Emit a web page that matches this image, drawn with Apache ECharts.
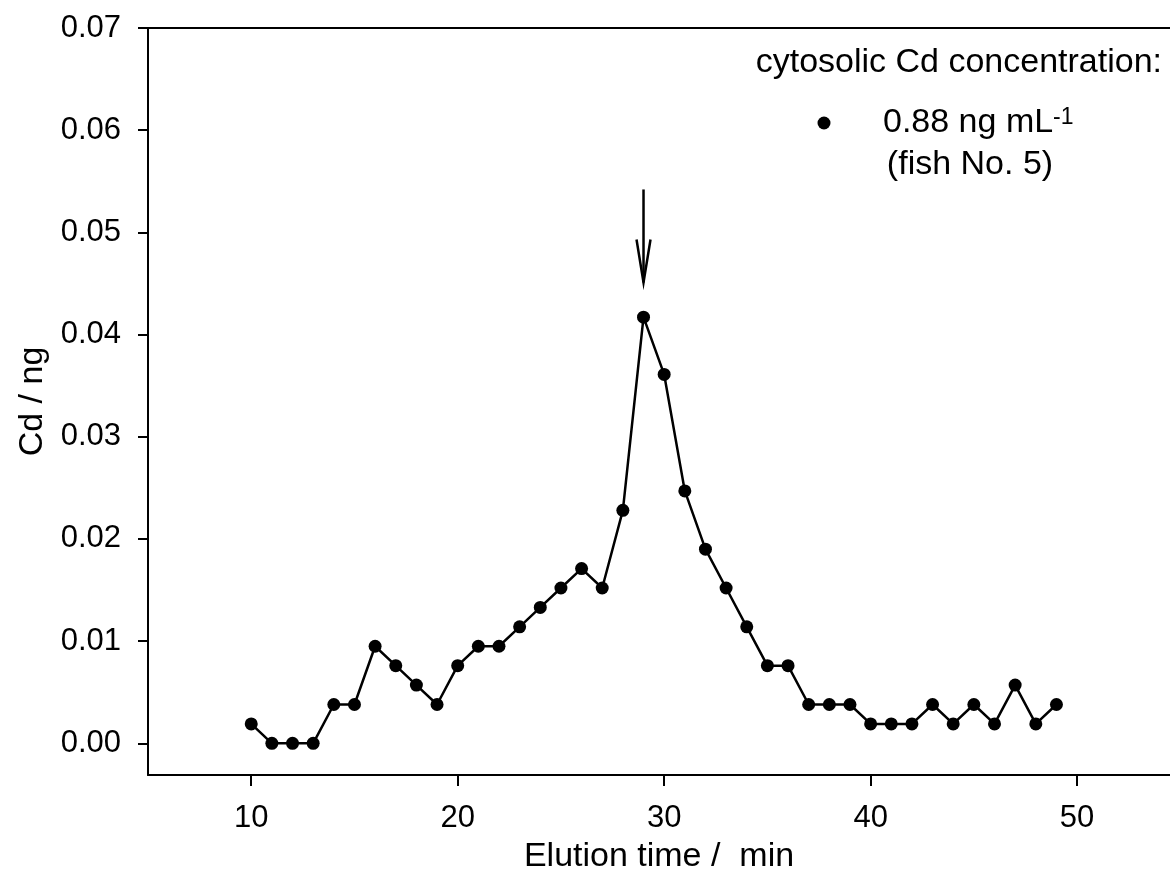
<!DOCTYPE html>
<html>
<head>
<meta charset="utf-8">
<script src="https://cdn.jsdelivr.net/npm/echarts@6/dist/echarts.min.js"></script>
<style>
  html, body { margin: 0; padding: 0; background: #fff; }
  #chart { width: 1170px; height: 876px; }
</style>
</head>
<body>
<div id="chart"></div>
<script>
// elution time (min) and Cd amount (ng)
const elutionTime = [10, 11, 12, 13, 14, 15, 16, 17, 18, 19,
  20, 21, 22, 23, 24, 25, 26, 27, 28, 29,
  30, 31, 32, 33, 34, 35, 36, 37, 38, 39,
  40, 41, 42, 43, 44, 45, 46, 47, 48, 49];
const cdAmount = [0.0019, 0, 0, 0, 0.0038, 0.0038, 0.0095, 0.0076, 0.0057, 0.0038,
  0.0076, 0.0095, 0.0095, 0.0114, 0.0133, 0.0152, 0.0171, 0.0152, 0.0228, 0.0417,
  0.0361, 0.0247, 0.0190, 0.0152, 0.0114, 0.0076, 0.0076, 0.0038, 0.0038, 0.0038,
  0.0019, 0.0019, 0.0019, 0.0038, 0.0019, 0.0038, 0.0019, 0.0057, 0.0019, 0.0038];

// tick labels
const xTicks = [10, 20, 30, 40, 50];
const yTicks = [0, 0.01, 0.02, 0.03, 0.04, 0.05, 0.06, 0.07];

// arrow over the peak: [time, from, to]
const peakArrow = [[29, 0.0542, 0.0451]];

const FONT = "'Liberation Sans', Arial, sans-serif";

let chart = echarts.init(document.getElementById('chart'));

let points = elutionTime.map(function (t, i) { return [t, cdAmount[i]]; });

let option = {
  animation: false,
  backgroundColor: '#fff',
  grid: { left: 148, top: 28, right: 0, bottom: 101, outerBoundsMode: 'none' },
  xAxis: [
    {
      type: 'value',
      min: 5,
      max: 54.5,
      name: 'Elution time /  min',
      nameLocation: 'middle',
      nameGap: 65,
      nameTextStyle: { fontFamily: FONT, fontSize: 34, color: '#000' },
      axisLine: { onZero: false, lineStyle: { color: '#000', width: 2 } },
      axisTick: { show: true, length: 11, lineStyle: { color: '#000', width: 2 }, customValues: xTicks },
      axisLabel: { customValues: xTicks, margin: 28, fontFamily: FONT, fontSize: 31, color: '#000' },
      splitLine: { show: false }
    },
    {
      // top frame line
      type: 'value',
      position: 'top',
      min: 5,
      max: 54.5,
      axisLine: { show: true, onZero: false, lineStyle: { color: '#000', width: 2 } },
      axisTick: { show: false },
      axisLabel: { show: false },
      splitLine: { show: false }
    }
  ],
  yAxis: {
    type: 'value',
    min: -0.0031,
    max: 0.07,
    name: 'Cd / ng',
    nameLocation: 'middle',
    nameGap: 96,
    nameTextStyle: { fontFamily: FONT, fontSize: 34, color: '#000' },
    axisLine: { show: true, onZero: false, lineStyle: { color: '#000', width: 2 } },
    axisTick: { show: true, length: 10, lineStyle: { color: '#000', width: 2 }, customValues: yTicks },
    axisLabel: {
      customValues: yTicks,
      margin: 27,
      fontFamily: FONT,
      fontSize: 31,
      color: '#000',
      formatter: function (v) { return v.toFixed(2); }
    },
    splitLine: { show: false }
  },
  graphic: [
    {
      type: 'text',
      x: 1162,
      y: 63,
      style: {
        text: 'cytosolic Cd concentration:',
        fontFamily: FONT, fontSize: 34, fill: '#000',
        align: 'right', verticalAlign: 'middle'
      }
    },
    {
      type: 'circle',
      shape: { cx: 824, cy: 123, r: 6.5 },
      style: { fill: '#000' }
    },
    {
      type: 'text',
      x: 883,
      y: 123,
      style: {
        text: '0.88 ng mL{sup|-1}',
        fontFamily: FONT, fontSize: 34, fill: '#000',
        align: 'left', verticalAlign: 'middle',
        rich: {
          sup: { fontFamily: FONT, fontSize: 23, fill: '#000', verticalAlign: 'top', lineHeight: 22 }
        }
      }
    },
    {
      type: 'text',
      x: 970,
      y: 165,
      style: {
        text: '(fish No. 5)',
        fontFamily: FONT, fontSize: 34, fill: '#000',
        align: 'center', verticalAlign: 'middle'
      }
    }
  ],
  series: [
    {
      name: 'Cd',
      type: 'line',
      data: points,
      symbol: 'circle',
      symbolSize: 13,
      showSymbol: true,
      itemStyle: { color: '#000' },
      lineStyle: { color: '#000', width: 2.5 },
      silent: true
    },
    {
      name: 'arrow',
      type: 'custom',
      data: peakArrow,
      encode: { x: 0, y: [1, 2] },
      silent: true,
      renderItem: function (params, api) {
        let top = api.coord([api.value(0), api.value(1)]);
        let tip = api.coord([api.value(0), api.value(2)]);
        return {
          type: 'group',
          children: [
            {
              type: 'line',
              shape: { x1: top[0], y1: top[1], x2: tip[0], y2: tip[1] },
              style: { stroke: '#000', lineWidth: 2.5 }
            },
            {
              type: 'polyline',
              shape: { points: [[tip[0] - 7, tip[1] - 43], [tip[0], tip[1]], [tip[0] + 7, tip[1] - 43]] },
              style: { stroke: '#000', fill: null, lineWidth: 2.5 }
            }
          ]
        };
      }
    }
  ]
};

chart.setOption(option);
</script>
</body>
</html>
